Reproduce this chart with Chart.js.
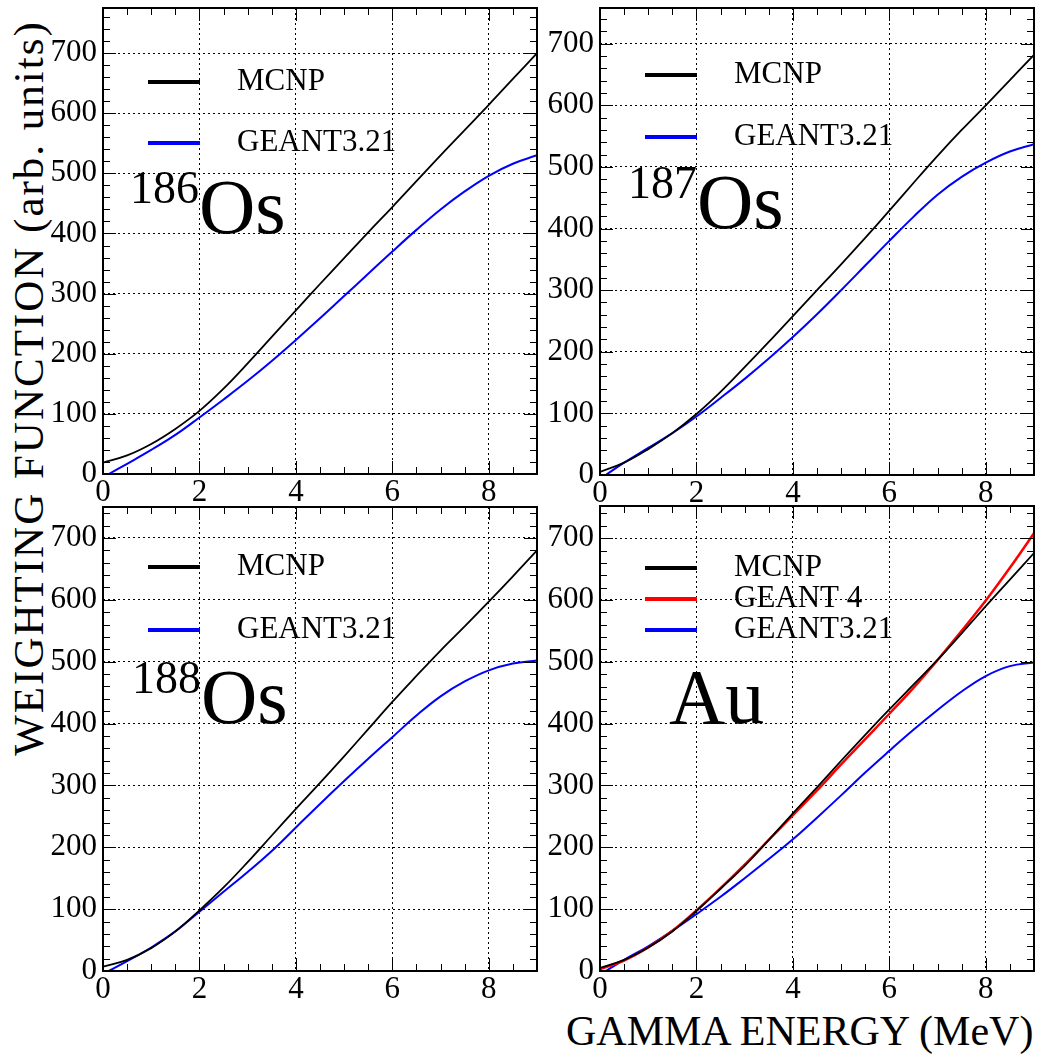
<!DOCTYPE html>
<html>
<head>
<meta charset="utf-8">
<script src="https://cdn.jsdelivr.net/npm/chart.js@4.4.1/dist/chart.umd.min.js"></script>
<style>
  body { margin: 0; width: 1038px; height: 1054px; position: relative; overflow: hidden; background: #fff; font-family: "Liberation Serif", Tinos, "Times New Roman", Times, "DejaVu Serif", serif; }
  canvas { position: absolute; }
  .axis-title { position: absolute; white-space: nowrap; line-height: 1; color: #000; }
  #ytitle { left: 28px; top: 388px; font-size: 43px; letter-spacing: 2px; transform: translate(-50%, -50%) rotate(-90deg); }
  #xtitle { left: 566px; top: 1010px; font-size: 42px; }
</style>
</head>
<body>
<div id="ytitle" class="axis-title">WEIGHTING FUNCTION (arb. units)</div>
<div id="xtitle" class="axis-title">GAMMA ENERGY (MeV)</div>
<script>
// gamma energies (MeV) where the curves were sampled
const energy = [0, 0.5, 1, 1.5, 2, 2.5, 3, 3.5, 4, 4.5, 5, 5.5, 6, 6.5, 7, 7.5, 8, 8.5, 9];
const g3Energy = [0.12, 0.5, 1, 1.5, 2, 2.5, 3, 3.5, 4, 4.5, 5, 5.5, 6, 6.5, 7, 7.5, 8, 8.5, 9];

// weighting functions, arb. units
const os186Mcnp   = [19, 31, 50, 75, 105, 142, 184, 228, 272, 316, 359, 402, 444, 487, 530, 572, 614, 657, 700];
const os186Geant3 = [0, 17, 40, 65, 94, 124, 155, 188, 223, 259, 296, 333, 370, 406, 440, 470, 496, 516, 530];
const os187Mcnp   = [5, 20, 42, 68, 99, 135, 175, 216, 258, 300, 342, 385, 429, 474, 518, 560, 600, 641, 682];
const os187Geant3 = [0, 20, 44, 68, 95, 125, 156, 189, 224, 261, 300, 340, 380, 419, 455, 484, 507, 525, 537];
const os188Mcnp   = [7, 18, 37, 64, 98, 135, 176, 219, 262, 304, 347, 391, 435, 477, 518, 557, 597, 638, 680];
const os188Geant3 = [0, 16, 38, 64, 96, 128, 160, 194, 232, 270, 307, 343, 378, 413, 444, 468, 486, 497, 502];
const auMcnp      = [5, 18, 38, 64, 97, 133, 170, 212, 255, 297, 340, 382, 423, 463, 503, 546, 590, 633, 676];
const auGeant4    = [3, 17, 38, 65, 98, 134, 172, 212, 252, 292, 334, 375, 416, 458, 503, 550, 599, 652, 708];
const auGeant3    = [0, 18, 40, 65, 92, 120, 150, 181, 213, 248, 284, 321, 356, 390, 422, 452, 477, 493, 499];

const xTicks = [0, 2, 4, 6, 8];
const FONT = '"Liberation Serif", Tinos, "Times New Roman", Times, "DejaVu Serif", serif';
const Y_AXIS_W = 103, X_AXIS_H = 35, PAD_TOP = 8, PAD_RIGHT = 4;

const pts = (xs, ys) => xs.map((x, i) => ({ x: x, y: ys[i] }));

// frame with inward ticks on all four sides
const frameTicks = {
  id: 'frameTicks',
  afterDatasetsDraw(chart) {
    const { ctx, chartArea: a, scales: { x, y } } = chart;
    ctx.save();
    ctx.strokeStyle = '#000';
    ctx.lineWidth = 1;
    ctx.beginPath();
    for (let v = 0; v <= x.max + 1e-6; v += 0.5) {
      const px = Math.round(x.getPixelForValue(v)) + 0.5;
      const len = v % 2 === 0 ? 13 : 7;
      ctx.moveTo(px, a.bottom); ctx.lineTo(px, a.bottom - len);
      ctx.moveTo(px, a.top); ctx.lineTo(px, a.top + len);
    }
    for (let v = 0; v <= y.max + 1e-6; v += 20) {
      const py = Math.round(y.getPixelForValue(v)) + 0.5;
      const len = v % 100 === 0 ? 13 : 7;
      ctx.moveTo(a.left, py); ctx.lineTo(a.left + len, py);
      ctx.moveTo(a.right, py); ctx.lineTo(a.right - len, py);
    }
    ctx.stroke();
    ctx.lineWidth = 2;
    ctx.strokeRect(a.left, a.top, a.right - a.left, a.bottom - a.top);
    ctx.restore();
  }
};

// legend entries and nucleus label inside the frame
const panelText = {
  id: 'panelText',
  afterDraw(chart, args, opts) {
    const { ctx, chartArea: a } = chart;
    ctx.save();
    ctx.fillStyle = '#000';
    ctx.textBaseline = 'middle';
    ctx.font = '31px ' + FONT;
    chart.data.datasets.forEach((ds, i) => {
      const y = a.top + opts.legendTop + i * opts.legendGap;
      ctx.strokeStyle = ds.borderColor;
      ctx.lineWidth = 4;
      ctx.beginPath();
      ctx.moveTo(a.left + 45, y);
      ctx.lineTo(a.left + 97, y);
      ctx.stroke();
      ctx.fillText(ds.label, a.left + 134, y);
    });
    ctx.textBaseline = 'alphabetic';
    let x = a.left + opts.labelX;
    if (opts.mass) {
      ctx.font = '46px ' + FONT;
      ctx.fillText(opts.mass, x, a.top + opts.labelY - 30);
      x += ctx.measureText(opts.mass).width;
    }
    ctx.font = '78px ' + FONT;
    ctx.fillText(opts.symbol, x, a.top + opts.labelY);
    ctx.restore();
  }
};

function makePanel(p) {
  const canvas = document.createElement('canvas');
  const w = p.right - p.left + Y_AXIS_W + PAD_RIGHT;
  const h = p.bottom - p.top + PAD_TOP + X_AXIS_H;
  canvas.width = w;
  canvas.height = h;
  canvas.style.left = (p.left - Y_AXIS_W) + 'px';
  canvas.style.top = (p.top - PAD_TOP) + 'px';
  canvas.style.width = w + 'px';
  canvas.style.height = h + 'px';
  document.body.appendChild(canvas);

  const tickFont = { family: FONT, size: 31 };
  new Chart(canvas.getContext('2d'), {
    type: 'line',
    data: {
      datasets: p.series.map(s => ({
        label: s.label,
        data: pts(s.x, s.y),
        borderColor: s.color,
        borderWidth: s.width,
        pointRadius: 0,
        fill: false,
        tension: 0.4
      }))
    },
    options: {
      responsive: false,
      animation: false,
      devicePixelRatio: 1,
      layout: { padding: { top: PAD_TOP, right: PAD_RIGHT, left: 0, bottom: 0 } },
      plugins: {
        legend: { display: false },
        tooltip: { enabled: false },
        panelText: p.text
      },
      scales: {
        x: {
          type: 'linear', min: 0, max: 9,
          afterFit(s) { s.height = X_AXIS_H; s.paddingLeft = 0; s.paddingRight = 0; },
          afterBuildTicks(s) { s.ticks = xTicks.map(v => ({ value: v })); },
          ticks: { color: '#000', font: tickFont, maxRotation: 0, padding: 0 },
          grid: { color: '#000', lineWidth: 1, drawTicks: false },
          border: { display: false, dash: [2, 3] }
        },
        y: {
          type: 'linear', min: 0, max: p.yMax,
          afterFit(s) { s.width = Y_AXIS_W; s.paddingTop = 0; s.paddingBottom = 0; },
          ticks: { stepSize: 100, includeBounds: false, color: '#000', font: tickFont, padding: 6 },
          grid: { color: '#000', lineWidth: 1, drawTicks: false },
          border: { display: false, dash: [2, 3] }
        }
      }
    },
    plugins: [frameTicks, panelText]
  });
}

const BLACK = '#000000', BLUE = '#0000ff', RED = '#ff0000';

makePanel({
  left: 103, top: 8, right: 537, bottom: 474, yMax: 775,
  series: [
    { label: 'MCNP', x: energy, y: os186Mcnp, color: BLACK, width: 1.8 },
    { label: 'GEANT3.21', x: g3Energy, y: os186Geant3, color: BLUE, width: 2 }
  ],
  text: { legendTop: 74, legendGap: 61, mass: '186', symbol: 'Os', labelX: 27, labelY: 225 }
});

makePanel({
  left: 600, top: 8, right: 1034, bottom: 475, yMax: 758,
  series: [
    { label: 'MCNP', x: energy, y: os187Mcnp, color: BLACK, width: 1.8 },
    { label: 'GEANT3.21', x: g3Energy, y: os187Geant3, color: BLUE, width: 2 }
  ],
  text: { legendTop: 67, legendGap: 62, mass: '187', symbol: 'Os', labelX: 28, labelY: 220 }
});

makePanel({
  left: 103, top: 507, right: 537, bottom: 971, yMax: 750,
  series: [
    { label: 'MCNP', x: energy, y: os188Mcnp, color: BLACK, width: 1.8 },
    { label: 'GEANT3.21', x: g3Energy, y: os188Geant3, color: BLUE, width: 2 }
  ],
  text: { legendTop: 60, legendGap: 63, mass: '188', symbol: 'Os', labelX: 29, labelY: 216 }
});

makePanel({
  left: 600, top: 506, right: 1034, bottom: 971, yMax: 752,
  series: [
    { label: 'MCNP', x: energy, y: auMcnp, color: BLACK, width: 1.8 },
    { label: 'GEANT 4', x: energy, y: auGeant4, color: RED, width: 2.5 },
    { label: 'GEANT3.21', x: g3Energy, y: auGeant3, color: BLUE, width: 2 }
  ],
  text: { legendTop: 62, legendGap: 31, mass: '', symbol: 'Au', labelX: 69, labelY: 217 }
});
</script>
</body>
</html>
